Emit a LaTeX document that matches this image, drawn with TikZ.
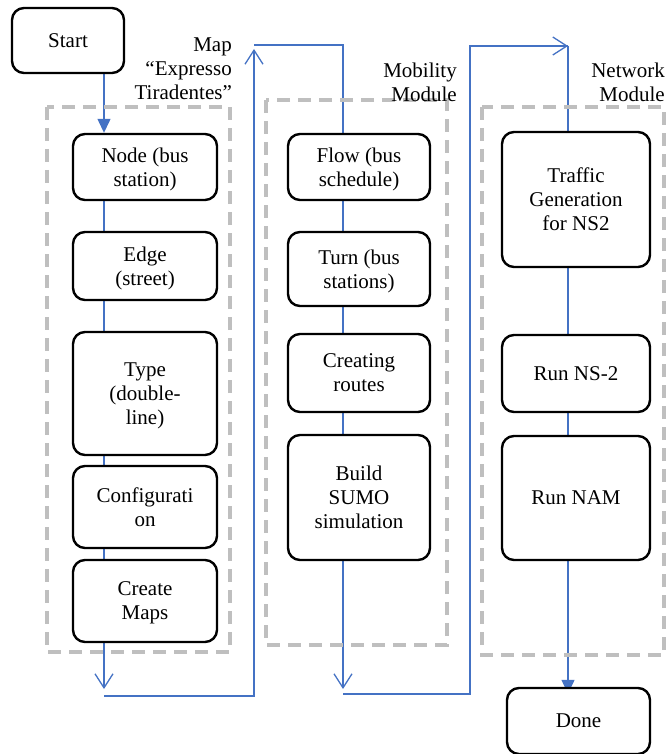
\documentclass[tikz,border=0pt]{standalone}
\usepackage{fontspec}
\setmainfont{Liberation Serif}
\usetikzlibrary{arrows.meta,backgrounds}

\definecolor{flowblue}{RGB}{68,114,196}
\definecolor{groupgray}{RGB}{191,191,191}

\tikzset{
  stepbox/.style={draw=black, line width=2.4pt, rounded corners=12pt, fill=white,
    align=center, inner sep=0pt, text depth=0pt, font=\fontsize{21}{24}\selectfont},
  grouplabel/.style={anchor=north east, align=right, inner sep=0pt,
    font=\fontsize{21}{24}\selectfont},
  groupbox/.style={draw=groupgray, line width=3.5pt, dash pattern=on 13pt off 8pt},
  flowline/.style={draw=flowblue, line width=1.3pt},
  openhead/.style={flowline, -{Straight Barb[length=14pt,width=18pt,line width=1.3pt]}},
  fullhead/.style={flowline, -{Triangle[length=14pt,width=13pt]}}
}

\begin{document}
\begin{tikzpicture}[x=1pt,y=-1pt]
\useasboundingbox (0,0) rectangle (665,754);

% module frames
\draw[groupbox] (47,107) rectangle (230,652);
\draw[groupbox] (266,100) rectangle (447,645);
\draw[groupbox] (482,107) rectangle (664,655);

% module titles
\node[grouplabel] (lblmap) at (232,38) {Map\\``Expresso\\Tiradentes''};
\node[grouplabel] (lblmob) at (457,63) {Mobility\\Module};
\node[grouplabel] (lblnet) at (665,63) {Network\\Module};

% start
\node[stepbox, minimum width=112pt, minimum height=65pt] (start) at (68,40.5) {Start};

% map column
\node[stepbox, minimum width=144pt, minimum height=66pt] (node) at (145,167) {Node (bus\\station)};
\node[stepbox, minimum width=144pt, minimum height=68pt] (edge) at (145,266) {Edge\\(street)};
\node[stepbox, minimum width=144pt, minimum height=123pt] (type) at (145,393.5) {Type\\(double-\\line)};
\node[stepbox, minimum width=144pt, minimum height=82pt] (config) at (145,507) {Configurati\\on};
\node[stepbox, minimum width=144pt, minimum height=82pt] (maps) at (145,601) {Create\\Maps};

% mobility column
\node[stepbox, minimum width=142pt, minimum height=66pt] (flow) at (359,167) {Flow (bus\\schedule)};
\node[stepbox, minimum width=142pt, minimum height=74pt] (turn) at (359,269) {Turn (bus\\stations)};
\node[stepbox, minimum width=142pt, minimum height=78pt] (routes) at (359,373) {Creating\\routes};
\node[stepbox, minimum width=142pt, minimum height=125pt] (sumo) at (359,497.5) {Build\\SUMO\\simulation};

% network column
\node[stepbox, minimum width=148pt, minimum height=135pt] (traffic) at (576,199.5) {Traffic\\Generation\\for NS2};
\node[stepbox, minimum width=148pt, minimum height=77pt] (ns2) at (576,373.5) {Run NS-2};
\node[stepbox, minimum width=148pt, minimum height=124pt] (nam) at (576,498) {Run NAM};

% done
\node[stepbox, minimum width=143pt, minimum height=66pt] (done) at (578.5,721) {Done};

% routing points of the blue line
\coordinate (c1) at (104,0);
\coordinate (c2) at (343,0);
\coordinate (c3) at (568,0);
\coordinate (b1) at (104,689);
\coordinate (b2) at (343,689);
\coordinate (u1) at (254,696);
\coordinate (t1) at (254,49);
\coordinate (u2) at (470,694);
\coordinate (t3) at (568,46);

\begin{scope}[on background layer]
\draw[fullhead] (start.south -| c1) -- (node.north -| c1);
\draw[openhead] (node.north -| c1) -- (b1);
\draw[openhead] (b1 |- u1) -- (u1) -- (t1);
\draw[flowline] (254,45) -- (343,45) -- (flow.north -| c2);
\draw[openhead] (flow.north -| c2) -- (b2);
\draw[flowline] (b2 |- u2) -- (u2) -- (470,46) -- (t3);
\draw[openhead] (470,46) -- (t3);
\draw[fullhead] (t3) -- ([yshift=-7pt]done.north -| t3);
\end{scope}
\end{tikzpicture}
\end{document}
